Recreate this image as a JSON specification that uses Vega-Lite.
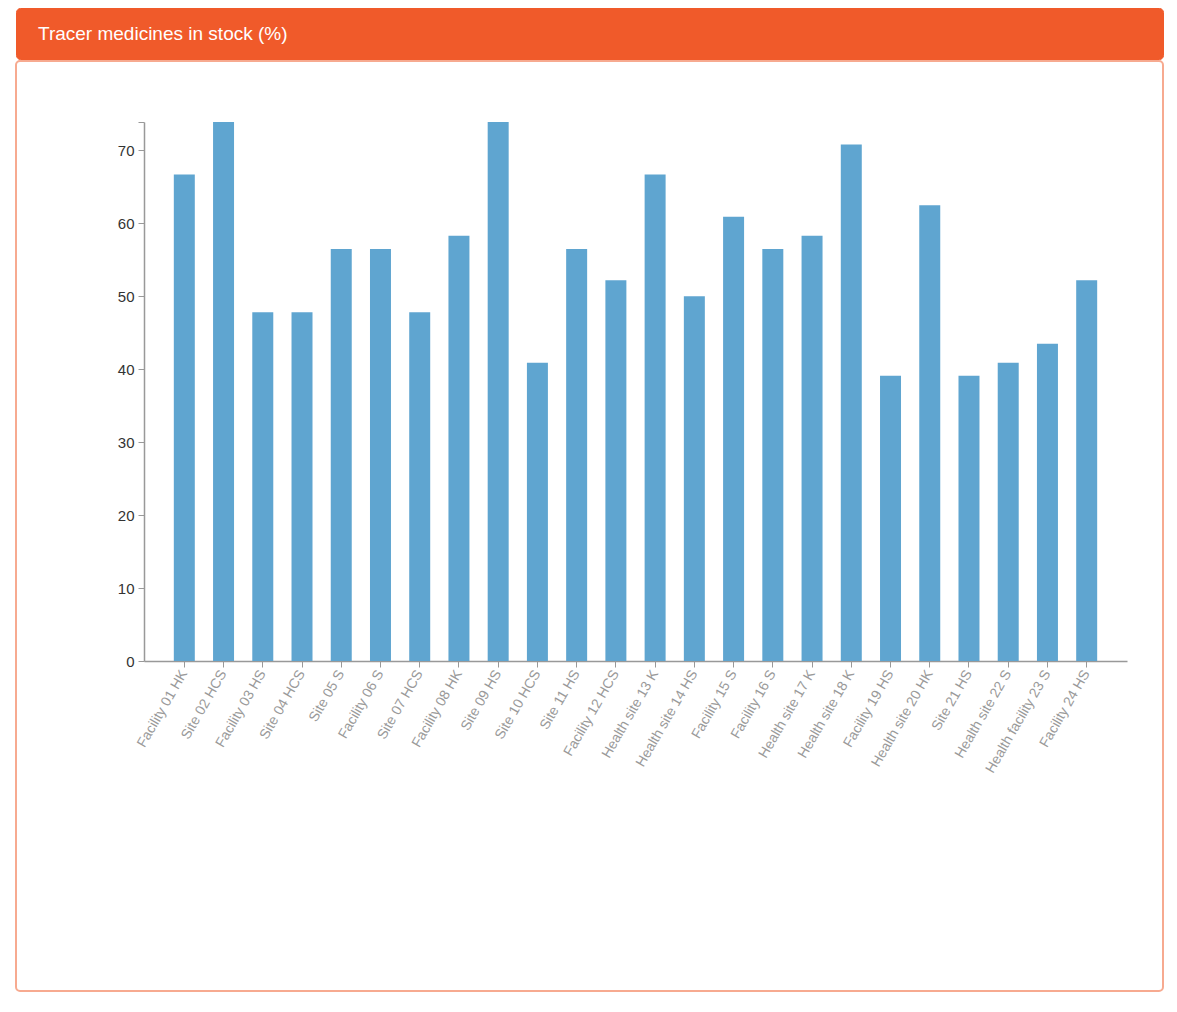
{
  "$schema": "https://vega.github.io/schema/vega-lite/v6.json",
  "padding": {"left": 15, "top": 7, "right": 15, "bottom": 20},
  "background": "white",
  "spacing": 0,
  "config": {
    "font": "Liberation Sans",
    "axis": {"labelFont": "Liberation Sans", "titleFont": "Liberation Sans"}
  },
  "vconcat": [
    {
      "width": 1147,
      "height": 51,
      "view": {"fill": "#F05A2A", "stroke": "#F05A2A", "cornerRadius": 4},
      "title": {
        "text": "Tracer medicines in stock (%)",
        "anchor": "start",
        "frame": "group",
        "orient": "top",
        "offset": -51,
        "dx": 22,
        "baseline": "alphabetic",
        "color": "white",
        "fontSize": 19,
        "fontWeight": "normal",
        "font": "Liberation Sans"
      },
      "data": {"values": []},
      "mark": "rect"
    },
    {
      "width": 1147,
      "height": 930,
      "view": {"fill": "white", "stroke": "#F7AA90", "strokeWidth": 2, "cornerRadius": 4},
      "data": {
        "values": [
          {"facility": "Facility 01 HK", "stock": 66.7},
          {"facility": "Site 02 HCS", "stock": 73.9},
          {"facility": "Facility 03 HS", "stock": 47.8},
          {"facility": "Site 04 HCS", "stock": 47.8},
          {"facility": "Site 05 S", "stock": 56.5},
          {"facility": "Facility 06 S", "stock": 56.5},
          {"facility": "Site 07 HCS", "stock": 47.8},
          {"facility": "Facility 08 HK", "stock": 58.3},
          {"facility": "Site 09 HS", "stock": 73.9},
          {"facility": "Site 10 HCS", "stock": 40.9},
          {"facility": "Site 11 HS", "stock": 56.5},
          {"facility": "Facility 12 HCS", "stock": 52.2},
          {"facility": "Health site 13 K", "stock": 66.7},
          {"facility": "Health site 14 HS", "stock": 50.0},
          {"facility": "Facility 15 S", "stock": 60.9},
          {"facility": "Facility 16 S", "stock": 56.5},
          {"facility": "Health site 17 K", "stock": 58.3},
          {"facility": "Health site 18 K", "stock": 70.8},
          {"facility": "Facility 19 HS", "stock": 39.1},
          {"facility": "Health site 20 HK", "stock": 62.5},
          {"facility": "Site 21 HS", "stock": 39.1},
          {"facility": "Health site 22 S", "stock": 40.9},
          {"facility": "Health facility 23 S", "stock": 43.5},
          {"facility": "Facility 24 HS", "stock": 52.2}
        ]
      },
      "mark": {"type": "bar", "color": "#5FA5D0"},
      "encoding": {
        "x": {
          "field": "facility",
          "type": "nominal",
          "sort": null,
          "title": null,
          "scale": {"range": [128, 1111], "paddingInner": 0.465, "paddingOuter": 0.76},
          "axis": {
            "orient": "bottom",
            "offset": -330,
            "labelAngle": -60,
            "labelAlign": "right",
            "labelBaseline": "middle",
            "labelFontSize": 14,
            "labelColor": "#9a9a9a",
            "labelPadding": 4,
            "labelOverlap": false,
            "labelLimit": 300,
            "tickColor": "#999",
            "tickSize": 6,
            "domainColor": "#999",
            "domainWidth": 1.5
          }
        },
        "y": {
          "field": "stock",
          "type": "quantitative",
          "title": null,
          "scale": {"domain": [0, 73.9], "range": [600, 61], "nice": false},
          "axis": {
            "orient": "left",
            "offset": -128,
            "values": [0, 10, 20, 30, 40, 50, 60, 70, 73.9],
            "labelExpr": "datum.value > 71 ? '' : datum.label",
            "grid": false,
            "labelFontSize": 15,
            "labelColor": "#333",
            "labelPadding": 4,
            "tickColor": "#999",
            "tickSize": 6,
            "domainColor": "#999",
            "domainWidth": 1.5
          }
        }
      }
    }
  ]
}
